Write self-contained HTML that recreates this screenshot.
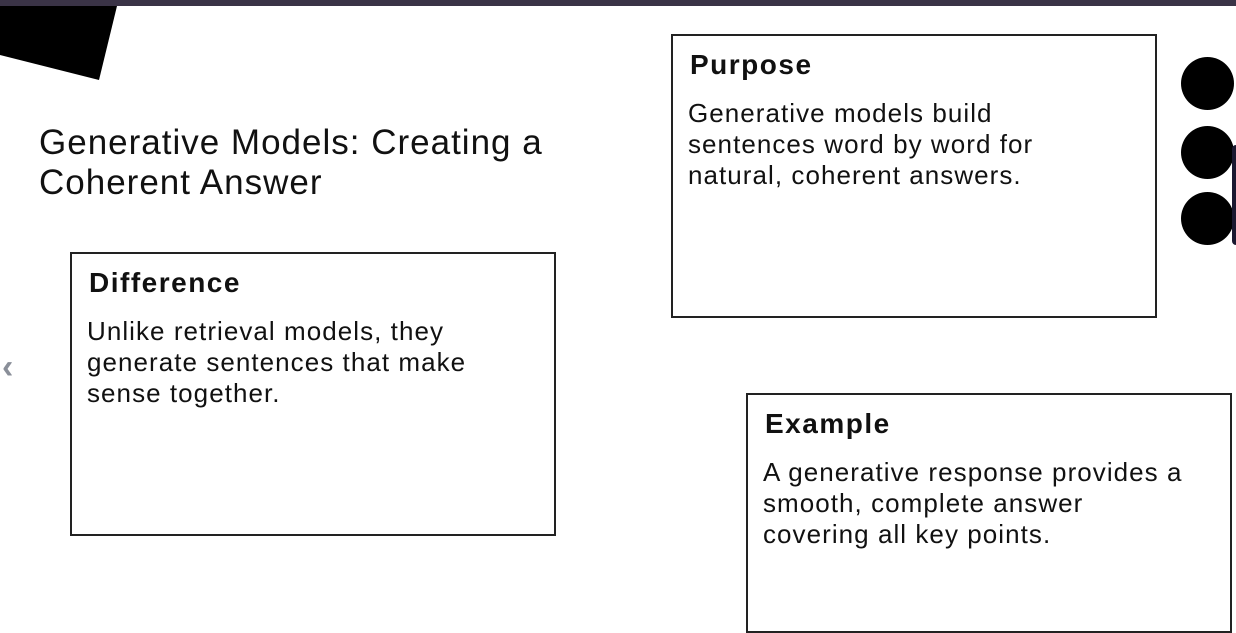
<!DOCTYPE html>
<html><head><meta charset="utf-8"><style>
*{margin:0;padding:0;box-sizing:border-box}
body{width:1236px;height:619px;overflow:hidden;background:#fff;position:relative;font-family:"Liberation Sans",sans-serif;color:#111}
.t{position:absolute;white-space:nowrap}
.box{position:absolute;border:2px solid #222;background:#fff}
.h{font-weight:bold;font-size:28px;letter-spacing:1.5px}
.p{font-size:26px;line-height:31px;letter-spacing:1.05px}
.c{position:absolute;width:53px;height:53px;border-radius:50%;background:#000}
</style></head><body>
<div style="position:absolute;left:0;top:0;width:1236px;height:6px;background:#3a3346"></div>
<svg style="position:absolute;left:0;top:0" width="130" height="90"><polygon points="0,6 117,6 99,80 0,55" fill="#000"/></svg>
<div class="t" style="left:39px;top:123px;font-size:35px;line-height:40px;letter-spacing:1px">Generative Models: Creating a<br>Coherent Answer</div>
<div class="t" style="left:2px;top:348px;font-size:34px;font-weight:bold;color:#8a8f99">‹</div>

<div class="box" style="left:70px;top:252px;width:486px;height:284px"></div>
<div class="t h" style="left:89px;top:267px">Difference</div>
<div class="t p" style="left:87px;top:316px">Unlike retrieval models, they<br>generate sentences that make<br>sense together.</div>

<div class="box" style="left:671px;top:34px;width:486px;height:284px"></div>
<div class="t h" style="left:690px;top:49px">Purpose</div>
<div class="t p" style="left:688px;top:98px">Generative models build<br>sentences word by word for<br>natural, coherent answers.</div>

<div class="box" style="left:746px;top:393px;width:486px;height:240px"></div>
<div class="t h" style="left:765px;top:408px">Example</div>
<div class="t p" style="left:763px;top:457px">A generative response provides a<br>smooth, complete answer<br>covering all key points.</div>

<div class="c" style="left:1181px;top:57px"></div>
<div class="c" style="left:1181px;top:126px"></div>
<div class="c" style="left:1181px;top:192px"></div>
<div style="position:absolute;left:1232px;top:145px;width:8px;height:100px;background:#1a1830;border-radius:4px"></div>
</body></html>
